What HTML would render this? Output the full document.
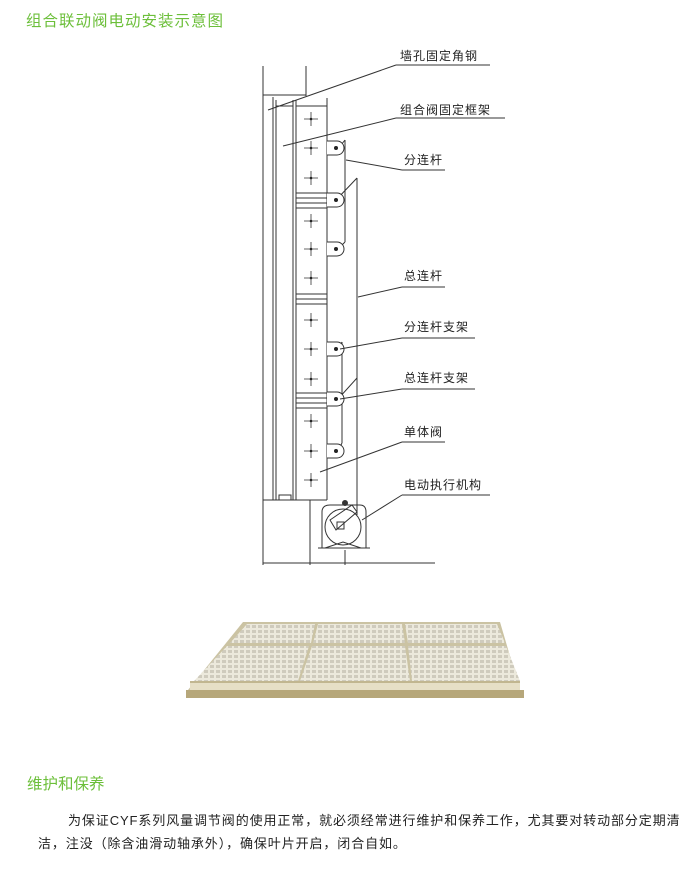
<!DOCTYPE html>
<html><head><meta charset="utf-8"><style>
body{margin:0;width:700px;height:870px;background:#fff;position:relative;overflow:hidden;font-family:"Liberation Sans","Noto Sans CJK SC",sans-serif}
.t{position:absolute;white-space:nowrap}
</style></head><body>
<div class="t" style="left:26px;top:9px;font-size:15.5px;color:#6cbf3a;letter-spacing:1px">组合联动阀电动安装示意图</div>
<svg width="700" height="870" style="position:absolute;left:0;top:0" font-family="Liberation Sans,Noto Sans CJK SC,sans-serif">
<defs>
<pattern id="g" width="6" height="5" patternUnits="userSpaceOnUse"><rect width="6" height="5" fill="#ece9dc"/><rect x="0" y="0" width="4" height="3" fill="#cfcbbd"/></pattern>
</defs>
<g stroke="#333" stroke-width="1" fill="none">
<line x1="263" y1="66" x2="263" y2="565"/>
<line x1="306" y1="66" x2="306" y2="96"/>
<line x1="263" y1="95" x2="306" y2="95"/>
<line x1="273" y1="97" x2="273" y2="500"/>
<line x1="276" y1="100" x2="276" y2="500"/>
<line x1="293" y1="100" x2="293" y2="500"/>
<line x1="296" y1="100" x2="296" y2="500"/>
<line x1="327" y1="98" x2="327" y2="500"/>
<path d="M276 100 V106 H293 V100 M296 106 H327"/>
<line x1="263" y1="500" x2="327" y2="500"/>
<rect x="279" y="495" width="12" height="5"/>
<path d="M296 193H327M296 198H327M296 203H327M296 208H327"/>
<path d="M296 294H327M296 299H327M296 304H327"/>
<path d="M296 393H327M296 398H327M296 403H327M296 408H327"/>
<line x1="357" y1="178" x2="357" y2="515"/>
<line x1="345" y1="140" x2="345" y2="242"/>
<line x1="342" y1="342" x2="342" y2="443"/>
<path d="M345 140 L337 150 M357 178 L336 200 M345 242 L337 250 M342 342 L338 350 M357 378 L338 399 M342 443 L338 451"/>
<line x1="263" y1="563" x2="435" y2="563"/>
<line x1="310" y1="500" x2="310" y2="565"/>
<line x1="345" y1="550" x2="345" y2="565"/>
</g>
<g stroke="#333" stroke-width="1" fill="#fff">
<path d="M327 141 H337 A7 7 0 0 1 337 155 H327"/><path d="M327 193 H337 A7 7 0 0 1 337 207 H327"/><path d="M327 242 H337 A7 7 0 0 1 337 256 H327"/>
<path d="M327 342 H337 A7 7 0 0 1 337 356 H327"/><path d="M327 392 H337 A7 7 0 0 1 337 406 H327"/><path d="M327 444 H337 A7 7 0 0 1 337 458 H327"/>
</g>
<g stroke="#333" stroke-width="0.8">
<path d="M304 119h14M311 112v14M304 148h14M311 141v14M304 178h14M311 171v14M304 221h14M311 214v14M304 249h14M311 242v14M304 278h14M311 271v14M304 320h14M311 313v14M304 349h14M311 342v14M304 379h14M311 372v14M304 421h14M311 414v14M304 451h14M311 444v14M304 480h14M311 473v14"/>
</g>
<g fill="#222"><circle cx="311" cy="119" r="1.3"/><circle cx="311" cy="148" r="1.3"/><circle cx="311" cy="178" r="1.3"/><circle cx="311" cy="221" r="1.3"/><circle cx="311" cy="249" r="1.3"/><circle cx="311" cy="278" r="1.3"/><circle cx="311" cy="320" r="1.3"/><circle cx="311" cy="349" r="1.3"/><circle cx="311" cy="379" r="1.3"/><circle cx="311" cy="421" r="1.3"/><circle cx="311" cy="451" r="1.3"/><circle cx="311" cy="480" r="1.3"/>
<circle cx="336" cy="148" r="2"/><circle cx="336" cy="200" r="2"/><circle cx="336" cy="249" r="2"/><circle cx="336" cy="349" r="2"/><circle cx="336" cy="399" r="2"/><circle cx="336" cy="451" r="2"/></g>
<g stroke="#333" stroke-width="1" fill="none">
<path d="M322 548 V512 Q322 505 330 505 H360 Q366 505 366 512 V548"/>
<circle cx="343" cy="527" r="18"/>
<path d="M330 520 L352 505 L357 512 L336 530 Z"/>
<rect x="337" y="522" width="7" height="7"/>
<path d="M318 548 H370 M325 548 L343 542 L361 548"/>
</g>
<circle cx="345" cy="503" r="3" fill="#333"/>
<g stroke="#333" stroke-width="1">
<line x1="396" y1="65" x2="490" y2="65"/><line x1="396" y1="65" x2="268" y2="110"/>
<line x1="396" y1="118" x2="505" y2="118"/><line x1="396" y1="118" x2="283" y2="146"/>
<line x1="402" y1="170" x2="445" y2="170"/><line x1="402" y1="170" x2="346" y2="160"/>
<line x1="402" y1="287" x2="445" y2="287"/><line x1="402" y1="287" x2="358" y2="297"/>
<line x1="402" y1="338" x2="475" y2="338"/><line x1="402" y1="338" x2="340" y2="349"/>
<line x1="402" y1="389" x2="475" y2="389"/><line x1="402" y1="389" x2="340" y2="399"/>
<line x1="402" y1="442" x2="445" y2="442"/><line x1="402" y1="442" x2="320" y2="472"/>
<line x1="402" y1="495" x2="490" y2="495"/><line x1="402" y1="495" x2="362" y2="520"/>
</g>
<g font-size="12" fill="#222" letter-spacing="1">
<text x="400" y="60">墙孔固定角钢</text><text x="400" y="114">组合阀固定框架</text>
<text x="404" y="164">分连杆</text><text x="404" y="280">总连杆</text>
<text x="404" y="331">分连杆支架</text><text x="404" y="382">总连杆支架</text>
<text x="404" y="436">单体阀</text><text x="404" y="489">电动执行机构</text>
</g>
<rect x="186" y="690" width="338" height="8" fill="#b6a77a"/>
<polygon points="243,622 500,622 520,690 188,690" fill="#cbc3a3"/>
<polygon points="247,624 315,624 311,643 230,643" fill="url(#g)"/>
<polygon points="318,624 402,624 405,643 313,643" fill="url(#g)"/>
<polygon points="405,624 497,624 505,643 408,643" fill="url(#g)"/>
<polygon points="227,646 309,646 298,681 194,681" fill="url(#g)"/>
<polygon points="312,646 405,646 410,681 300,681" fill="url(#g)"/>
<polygon points="408,646 506,646 520,681 412,681" fill="url(#g)"/>
<rect x="190" y="681" width="330" height="9" fill="#e6dfc6"/>
<line x1="190" y1="682" x2="520" y2="682" stroke="#9c8c5a"/>
</svg>
<div class="t" style="left:27px;top:772px;font-size:15.5px;color:#6cbf3a">维护和保养</div>
<div class="t" style="left:68px;top:810px;font-size:13px;color:#222;letter-spacing:0.9px">为保证CYF系列风量调节阀的使用正常，就必须经常进行维护和保养工作，尤其要对转动部分定期清</div>
<div class="t" style="left:38px;top:833px;font-size:13px;color:#222;letter-spacing:0.9px">洁，注没（除含油滑动轴承外），确保叶片开启，闭合自如。</div>
</body></html>
